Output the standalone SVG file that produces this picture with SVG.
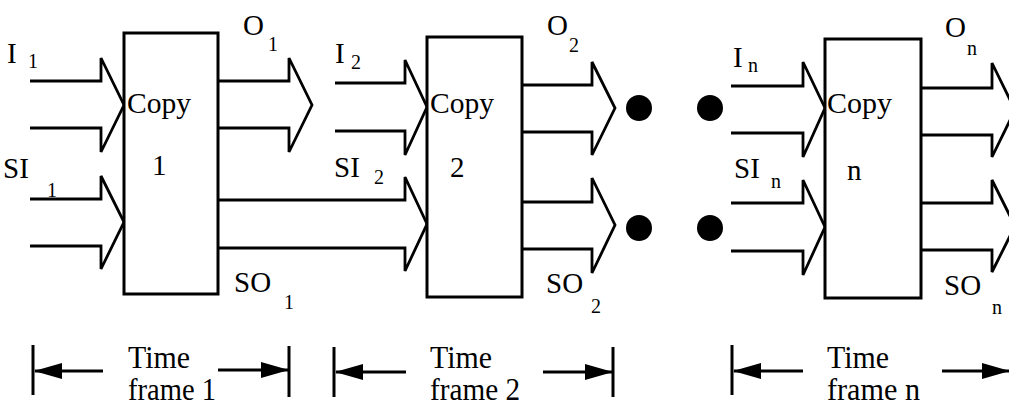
<svg xmlns="http://www.w3.org/2000/svg" width="1009" height="409" viewBox="0 0 1009 409">
<defs>
<style>
.box{fill:#fff;stroke:#000;stroke-width:3}
.arr{fill:none;stroke:#000;stroke-width:2.8;stroke-linejoin:miter}
.dim{fill:none;stroke:#000;stroke-width:3}
.tick{stroke:#000;stroke-width:3}
.dot{fill:#000}
text{font-family:"Liberation Serif","Times New Roman",serif;fill:#000}
.lb{font-size:29px}
.sb{font-size:20px}
.tf{font-size:31px}
</style>
<marker id="dimhead" viewBox="0 0 28 16" refX="27" refY="8" markerWidth="28" markerHeight="16" markerUnits="userSpaceOnUse" orient="auto">
<path d="M0,0 L28,8 L0,16 z" fill="#000"/>
</marker>
</defs>
<rect width="1009" height="409" fill="#fff"/>

<g id="connectors">
<polyline class="arr" points="30,81 101,81 101,58 124,105 101,152 101,128 30,128"/>
<polyline class="arr" points="30,199 101,199 101,176 124,222 101,269 101,246 30,246"/>
<polyline class="arr" points="218,81 289,81 289,58 312,105 289,152 289,128 218,128"/>
<polyline class="arr" points="218,200 405,200 405,177 427,224 405,271 405,248 218,248"/>
<polyline class="arr" points="335,83 405,83 405,60 427,107 405,155 405,131 335,131"/>
<polyline class="arr" points="522,85 592,85 592,62 615,108 592,155 592,132 522,132"/>
<polyline class="arr" points="522,202 592,202 592,178 615,225 592,273 592,249 522,249"/>
<polyline class="arr" points="731,86 803,86 803,62 825,108 803,157 803,133 731,133"/>
<polyline class="arr" points="731,203 803,203 803,180 825,227 803,275 803,251 731,251"/>
<polyline class="arr" points="921,88 992,88 992,63 1015,110 992,157 992,135 921,135"/>
<polyline class="arr" points="921,203 992,203 992,180 1015,226 992,272 992,250 921,250"/>
</g>

<g id="node-copy1">
<rect class="box" x="124" y="33" width="94" height="261"/>
<text class="lb" x="127" y="113" textLength="64" lengthAdjust="spacingAndGlyphs">Copy</text>
<text class="lb" x="152" y="175">1</text>
</g>
<g id="node-copy2">
<rect class="box" x="427" y="37" width="95" height="260"/>
<text class="lb" x="430" y="113" textLength="64" lengthAdjust="spacingAndGlyphs">Copy</text>
<text class="lb" x="450" y="177">2</text>
</g>
<g id="node-copyn">
<rect class="box" x="825" y="39" width="96" height="259"/>
<text class="lb" x="827" y="113" textLength="65" lengthAdjust="spacingAndGlyphs">Copy</text>
<text class="lb" x="847" y="180">n</text>
</g>

<g id="labels">
<text class="lb" x="7" y="63">I</text><text class="sb" x="28" y="68">1</text>
<text class="lb" x="3" y="178">SI</text><text class="sb" x="47" y="197">1</text>
<text class="lb" x="243" y="35">O</text><text class="sb" x="268" y="51">1</text>
<text class="lb" x="234" y="292">SO</text><text class="sb" x="284" y="309">1</text>

<text class="lb" x="335" y="63">I</text><text class="sb" x="351" y="69">2</text>
<text class="lb" x="334" y="177">SI</text><text class="sb" x="374" y="184">2</text>
<text class="lb" x="547" y="35">O</text><text class="sb" x="569" y="52">2</text>
<text class="lb" x="546" y="293">SO</text><text class="sb" x="591" y="313">2</text>

<text class="lb" x="733" y="67">I</text><text class="sb" x="748" y="72">n</text>
<text class="lb" x="734" y="178">SI</text><text class="sb" x="771" y="188">n</text>
<text class="lb" x="945" y="37">O</text><text class="sb" x="967" y="55">n</text>
<text class="lb" x="944" y="295">SO</text><text class="sb" x="992" y="314">n</text>
</g>

<g id="dots">
<circle class="dot" cx="639" cy="108" r="13"/>
<circle class="dot" cx="639" cy="228" r="13"/>
<circle class="dot" cx="710" cy="108" r="13"/>
<circle class="dot" cx="710" cy="228" r="13"/>
</g>

<g id="timeframe1">
<line class="tick" x1="33" y1="345" x2="33" y2="395"/>
<line class="dim" x1="103" y1="371" x2="35" y2="371" marker-end="url(#dimhead)"/>
<line class="dim" x1="218" y1="370" x2="288" y2="370" marker-end="url(#dimhead)"/>
<line class="tick" x1="289" y1="346" x2="289" y2="397"/>
<text class="tf" x="128" y="368" textLength="62" lengthAdjust="spacingAndGlyphs">Time</text>
<text class="tf" x="128" y="400" textLength="88" lengthAdjust="spacingAndGlyphs">frame 1</text>
</g>
<g id="timeframe2">
<line class="tick" x1="334" y1="347" x2="334" y2="397"/>
<line class="dim" x1="406" y1="372" x2="336" y2="372" marker-end="url(#dimhead)"/>
<line class="dim" x1="543" y1="372" x2="612" y2="372" marker-end="url(#dimhead)"/>
<line class="tick" x1="613" y1="347" x2="613" y2="397"/>
<text class="tf" x="430" y="368" textLength="62" lengthAdjust="spacingAndGlyphs">Time</text>
<text class="tf" x="430" y="400" textLength="90" lengthAdjust="spacingAndGlyphs">frame 2</text>
</g>
<g id="timeframen">
<line class="tick" x1="732" y1="345" x2="732" y2="395"/>
<line class="dim" x1="803" y1="371" x2="734" y2="371" marker-end="url(#dimhead)"/>
<line class="dim" x1="942" y1="371" x2="1009" y2="371" marker-end="url(#dimhead)"/>
<text class="tf" x="827" y="368" textLength="62" lengthAdjust="spacingAndGlyphs">Time</text>
<text class="tf" x="827" y="400" textLength="93" lengthAdjust="spacingAndGlyphs">frame n</text>
</g>
</svg>
